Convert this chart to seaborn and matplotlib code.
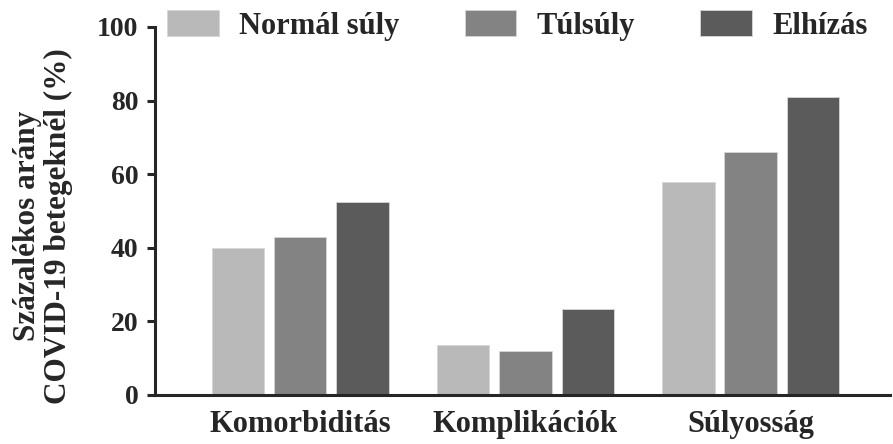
import matplotlib
matplotlib.use("Agg")
import matplotlib.pyplot as plt
import seaborn as sns
import pandas as pd

categories = ["Komorbiditás", "Komplikációk", "Súlyosság"]
groups = ["Normál súly", "Túlsúly", "Elhízás"]
normal = [40, 13.5, 58]
tulsuly = [43, 12, 66]
elhizas = [52.5, 23.5, 81]
colors = ["#b9b9b9", "#838383", "#5b5b5b"]

rows = []
for g, vals in zip(groups, [normal, tulsuly, elhizas]):
    for c, v in zip(categories, vals):
        rows.append({"kategoria": c, "csoport": g, "arany": v})
df = pd.DataFrame(rows)

sns.set_style("ticks")
plt.rcParams["font.family"] = ["Liberation Serif", "DejaVu Serif"]
plt.rcParams["font.weight"] = "bold"

fig = plt.figure(figsize=(8.93, 4.44), dpi=100)
ax = fig.add_axes([0.1736, 0.1104, 0.8234, 0.8288])

sns.barplot(data=df, x="kategoria", y="arany", hue="csoport",
            order=categories, hue_order=groups, palette=colors,
            width=0.83, gap=0.16, edgecolor="#d6d6d6", linewidth=0.6,
            saturation=1, ax=ax)

ax.set_ylim(0, 100)
ax.set_xlim(-0.644, 2.62)
ax.set_yticks([0, 20, 40, 60, 80, 100])
ax.tick_params(axis="y", length=6, width=2.2, pad=6, labelsize=20)
ax.tick_params(axis="x", length=0, pad=11, labelsize=22)
for lab in ax.get_xticklabels() + ax.get_yticklabels():
    lab.set_fontweight("bold")

sns.despine(ax=ax)
ax.spines["left"].set_linewidth(2.2)
ax.spines["bottom"].set_linewidth(2.2)

ax.set_xlabel("")
ax.set_ylabel("Százalékos arány\nCOVID-19 betegeknél (%)", fontsize=22.5,
              fontweight="bold", linespacing=1.05)
ax.yaxis.set_label_coords(-0.112, 0.46)

ax.legend(loc="center left", bbox_to_anchor=(0.016, 1.004), ncol=3,
          frameon=False, handlelength=1.7, handleheight=0.9,
          handletextpad=0.65, columnspacing=2.15, borderpad=0, borderaxespad=0,
          prop={"weight": "bold", "size": 22})

fig.savefig("out.png", dpi=100)
